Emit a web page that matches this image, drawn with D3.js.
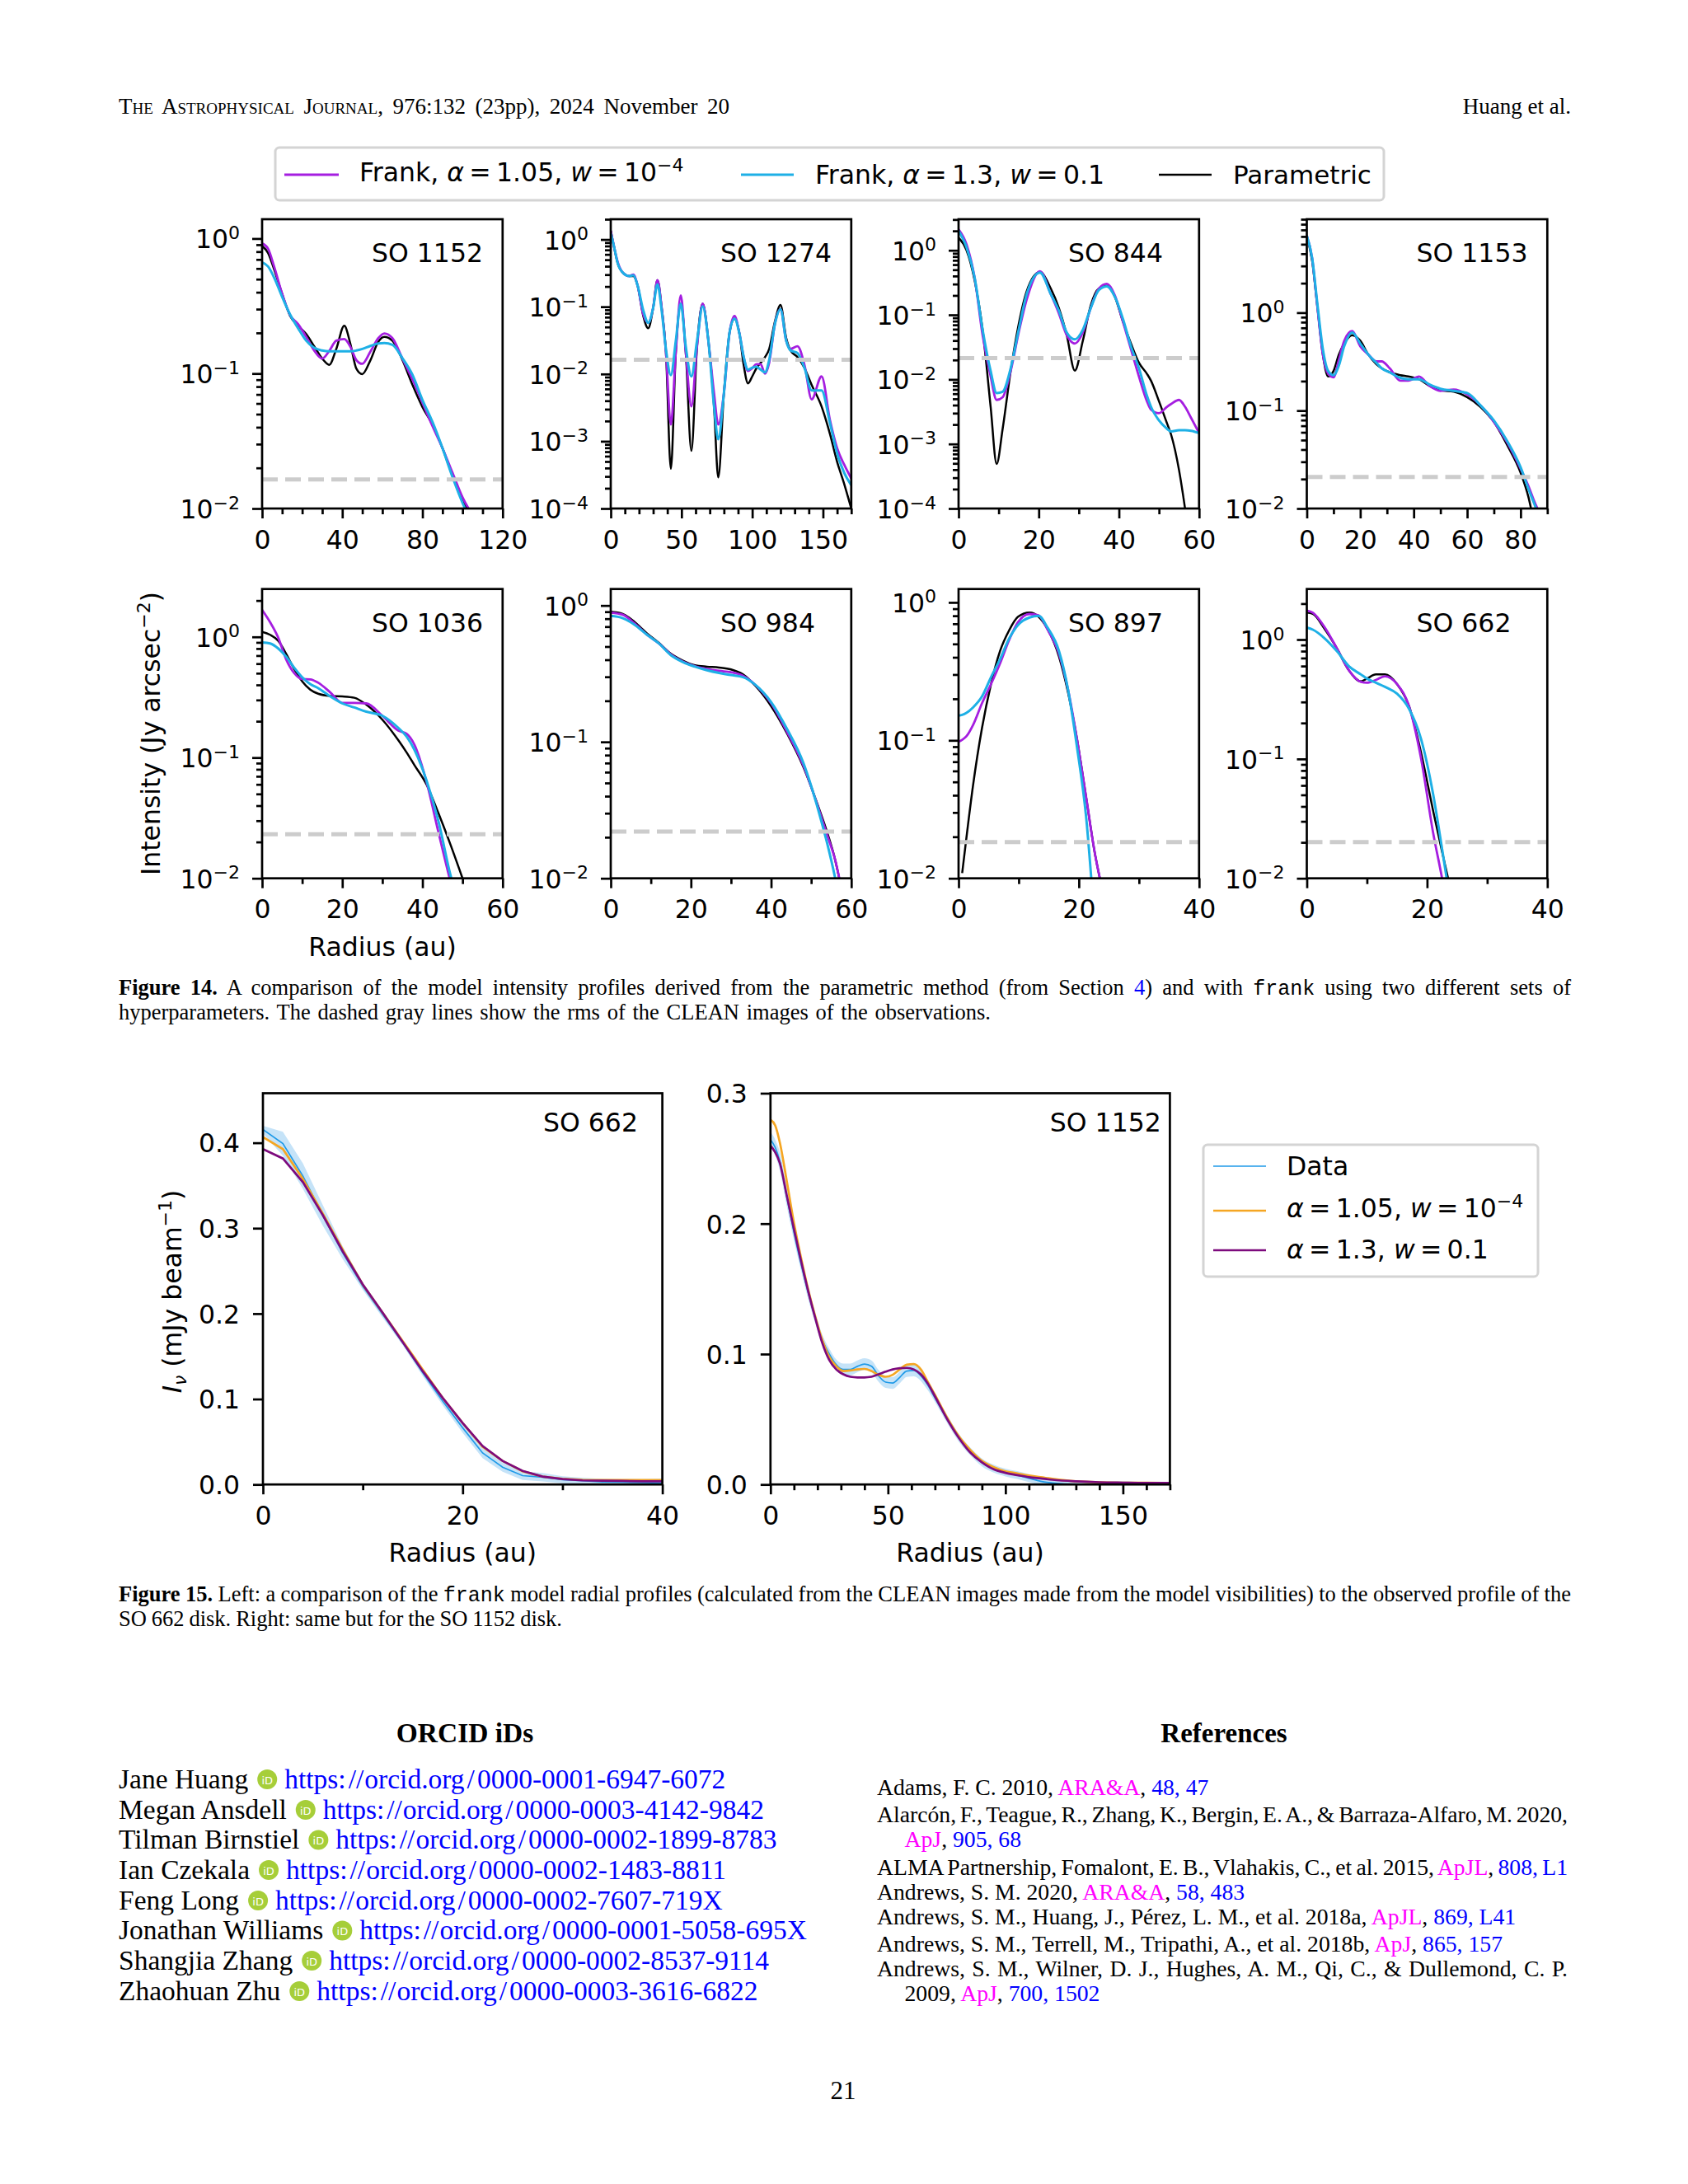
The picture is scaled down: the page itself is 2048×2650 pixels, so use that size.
<!DOCTYPE html>
<html><head><meta charset="utf-8">
<script src="https://cdn.jsdelivr.net/npm/d3@7/dist/d3.min.js"></script>
<style>html,body{margin:0;padding:0;background:#fff}svg{display:block}text{white-space:pre}</style>
</head><body><div id="chart"></div>
<script>
// ---------- Figure 14 data: radius (au) and intensity (Jy arcsec^-2) ----------
const so1152Radius=[0,3,6,10,14,18,22,26,30,33.5,37,41,44,47,50,54,58,61,65,70,75,80,85,90,95,100,103];
const so1152Parametric=[.88,.78,.59,.388,.267,.226,.196,.159,.129,.116,.152,.226,.167,.109,.099,.125,.172,.187,.175,.126,.0826,.0565,.0418,.028,.0175,.0115,.0095];
const so1152Frank105=[.92,.84,.62,.39,.27,.232,.187,.148,.129,.147,.175,.18,.158,.126,.118,.145,.183,.198,.183,.129,.0906,.0608,.0408,.028,.0184,.0121,.01];
const so1152Frank13=[.665,.62,.514,.37,.273,.216,.175,.155,.148,.146,.146,.146,.146,.148,.152,.16,.167,.168,.163,.13,.098,.0637,.0438,.028,.0171,.011,.0088];

const so1274Radius=[0,2,5,9,13,16,19,23,26.5,30,33,36,39,42.5,46,49.5,53,57,61,65,69,73,76,80,84,87.5,91,94,97,100,103,106,109,112,116,120,124,127,132,137,142,149,155,160,165,170];
const so1274Parametric=[1.35,.84,.437,.314,.286,.286,.206,.073,.0478,.0968,.248,.0968,.0214,3.9e-4,.0214,.111,.0214,7.2e-4,.0259,.111,.0313,3.3e-3,2.9e-4,5.2e-3,.0415,.0664,.0395,.0134,7.26e-3,9.2e-3,.0122,.0147,.0178,.0236,.06,.106,.0343,.0225,.0178,.0122,6.9e-3,3.3e-3,1.27e-3,4.95e-4,2.33e-4,1e-4];
const so1274Frank105=[1.35,.84,.457,.314,.286,.3,.206,.0764,.0577,.0968,.248,.0968,.0214,1.77e-3,.0214,.148,.0214,3.3e-3,.0259,.111,.0313,5.2e-3,1.77e-3,5.2e-3,.0415,.073,.0395,.0178,.0111,.0122,.014,.014,.0101,.0147,.055,.092,.0313,.0236,.0259,.0134,4.2e-3,9.2e-3,2.04e-3,7.9e-4,4.5e-4,2.8e-4];
const so1274Frank13=[1.23,.84,.437,.314,.286,.294,.206,.088,.0577,.0968,.215,.088,.0236,.0096,.0313,.111,.0259,.0092,.0313,.101,.0313,3.3e-3,1.07e-3,5.2e-3,.0415,.0664,.0395,.0178,.0116,.0124,.0128,.0116,.0106,.0162,.055,.092,.0313,.0225,.0205,.0122,5.7e-3,5.7e-3,1.85e-3,6.6e-4,3.4e-4,2.23e-4];

const so844Radius=[0,2,4,6,8,9.5,11,13,15,17,20.3,23,25,27,29,31,33,35,37,39,41,43,45,47,48,50,52,53,55,56.5,58,60];
const so844Parametric=[1.57,1,.343,.0587,3.77e-3,4.9e-4,1.72e-3,.0135,.0714,.232,.46,.256,.129,.0482,.0137,.0396,.142,.256,.282,.19,.0787,.036,.0181,.0122,.00955,4.58e-3,2.09e-3,1.41e-3,3.94e-4,1e-4,2e-5,6e-6];
const so844Frank105=[2.11,1.23,.378,.0482,.0111,4.81e-3,5.3e-3,.0135,.0532,.173,.474,.21,.106,.0482,.036,.0532,.129,.256,.302,.2,.0787,.0295,.0111,4.58e-3,3.41e-3,3e-3,3.77e-3,4.15e-3,4.81e-3,3.77e-3,2.54e-3,1.48e-3];
const so844Frank13=[2,1.11,.378,.0587,.0135,6.15e-3,6.45e-3,.0149,.0587,.21,.452,.21,.117,.0532,.0417,.0587,.129,.243,.277,.19,.0869,.0326,.0149,5.57e-3,3.77e-3,2.31e-3,1.72e-3,1.56e-3,1.63e-3,1.63e-3,1.6e-3,1.48e-3];

const so1153Radius=[0,2,4,6,8,10,12,14,17,20,23,26,28,31,35,38,42,46,50,55,60,65,70,75,80,83,85,87];
const so1153Parametric=[6.04,3.37,1.12,.374,.223,.254,.374,.484,.589,.517,.374,.298,.271,.246,.23,.223,.209,.178,.161,.156,.137,.109,.0767,.0443,.0232,.0129,.00724,.00431];
const so1153Frank105=[6.1,3.6,1.12,.374,.238,.219,.329,.517,.648,.454,.374,.318,.318,.271,.202,.202,.223,.178,.159,.164,.146,.113,.0767,.0472,.0255,.0168,.0121,.00907];
const so1153Frank13=[6.1,3.6,1.2,.426,.254,.23,.289,.454,.628,.484,.374,.308,.271,.246,.216,.209,.209,.184,.167,.159,.151,.113,.0792,.0488,.0264,.0157,.0114,.00823];

const so1036Radius=[0,2,4,6,8,10,12,14,17,20,23,26,30,34,36,38,41,44,47,50];
const so1036Parametric=[1.1,1.04,.93,.723,.542,.428,.366,.338,.324,.321,.313,.274,.206,.139,.111,.0866,.06,.0346,.019,.01];
const so1036Frank105=[1.67,1.32,.99,.65,.501,.447,.444,.417,.347,.284,.284,.281,.222,.167,.158,.128,.0632,.024,.00934,.00404];
const so1036Frank13=[.9,.881,.802,.686,.556,.463,.406,.376,.321,.281,.26,.24,.222,.176,.15,.116,.0649,.0296,.0106,.00498];

const so984Radius=[0,3,6,9,12,15,18,21,24,27,30,33,36,40,44,48,52,54,56,57];
const so984Parametric=[.899,.867,.754,.626,.532,.442,.394,.364,.356,.351,.34,.312,.259,.183,.115,.0661,.0322,.0217,.0136,.01];
const so984Frank105=[.887,.855,.736,.612,.527,.438,.388,.359,.343,.332,.324,.305,.263,.192,.118,.0676,.0314,.0207,.0136,.0101];
const so984Frank13=[.838,.807,.72,.612,.527,.432,.385,.356,.335,.32,.309,.298,.263,.196,.124,.0708,.03,.018,.01,.00713];

const so897Radius=[0,.6,1.3,2.4,3.9,5.4,6.9,8.4,9.9,11.8,13.3,14.8,16.7,18.2,19.7,21.2,22.7,23.5];
const so897Parametric=[null,.0109,.0196,.0469,.123,.256,.444,.626,.787,.843,.787,.641,.405,.223,.102,.0391,.0149,.01];
const so897Frank105=[.0977,.101,.107,.129,.186,.256,.361,.533,.719,.824,.806,.635,.424,.234,.102,.0391,.0149,.01];
const so897Frank13=[.151,.153,.158,.173,.208,.287,.387,.546,.687,.777,.798,.656,.444,.234,.0892,.0283,.00452,.00181];

const so662Radius=[0,1,3,5,7,9,10,11.5,13,15,17,19,21,22.5,23.5];
const so662Parametric=[1.68,1.64,1.22,.844,.552,.447,.471,.51,.51,.424,.277,.113,.037,.0167,.01];
const so662Frank105=[1.75,1.68,1.26,.844,.552,.442,.435,.459,.492,.424,.277,.101,.0242,.01,.00521];
const so662Frank13=[1.26,1.21,1.02,.8,.598,.51,.471,.435,.402,.352,.263,.147,.0509,.0176,.0084];

const panelNames=["SO 1152","SO 1274","SO 844","SO 1153","SO 1036","SO 984","SO 897","SO 662"];
const rmsLevels=[.0164,.0163,.0214,.021,.0232,.022,.0183,.0201];
const yMaxima=[1.39,2.0,3.03,9.0,2.49,1.32,1.25,2.65];
const yMinima=[.01,1e-4,1e-4,.01,.01,.01,.01,.01];
const xMaxima=[120,170,60,90,60,60,40,40];
const xMajorTicks=[[0,40,80,120],[0,50,100,150],[0,20,40,60],[0,20,40,60,80],[0,20,40,60],[0,20,40,60],[0,20,40],[0,20,40]];
const legendLabelsTop=["Parametric"];

// ---------- Figure 15 data: radius (au) and I_nu (mJy/beam) ----------
const fig15LeftRadius=[0,2,4,6,8,10,12,14,16,18,20,22,24,26,28,30,32,34,36,38,40];
const fig15LeftData=[.4155,.399,.361,.315,.271,.232,.199,.166,.131,.0977,.0664,.0369,.0203,.0103,.0085,.0055,.0044,.003,.0026,.0022,.0018];
const fig15LeftDataHigh=[.42,.413,.376,.327,.2785,.236,.203,.169,.135,.103,.0724,.0429,.0258,.0153,.0135,.0095,.0079,.0065,.0061,.0062,.0068];
const fig15LeftDataLow=[.411,.385,.346,.303,.2635,.228,.195,.163,.127,.0927,.0604,.0309,.0148,.0053,.0035,.0015,.0009,0,0,0,0];
const fig15LeftFrank105=[.4066,.3926,.3576,.317,.2747,.234,.2009,.1677,.1346,.1014,.0719,.0442,.0276,.0155,.0092,.0066,.0055,.0052,.0052,.0052,.0052];
const fig15LeftFrank13=[.3926,.3816,.3539,.3152,.2728,.2341,.2009,.1666,.1327,.1014,.0719,.045,.0276,.0159,.0092,.0063,.0048,.0044,.0041,.0037,.0037];

const fig15RightRadius=[0,2,4,7,10,13,16,19,22,25,28,31,34,37,40,43,46,49,52,55,58,61,64,67,70,75,80,85,90,95,100,105,110,115,120,130,140,150,160,170];
const fig15RightData=[.2645,.2585,.2476,.2198,.1932,.1691,.1473,.128,.1111,.1002,.0918,.0882,.0882,.0906,.0923,.0906,.0833,.0785,.0778,.0821,.087,.0874,.0833,.0761,.0664,.0507,.0362,.0254,.0169,.0121,.0092,.0072,.0048,.0024,.0012,.0002,.0002,.0012,.0005,.0003];
const fig15RightDataHigh=[.2705,.2645,.2546,.2268,.1992,.1741,.1523,.132,.1151,.1042,.0958,.0927,.0927,.0951,.0968,.0951,.0878,.083,.0823,.0866,.0915,.0919,.0873,.0801,.0694,.0537,.0392,.0284,.0199,.0151,.0122,.0102,.0078,.0048,.0032,.0022,.0022,.0025,.0015,.0012];
const fig15RightDataLow=[.2585,.2525,.2406,.2128,.1872,.1641,.1423,.124,.1071,.0962,.0878,.0837,.0837,.0861,.0878,.0861,.0788,.074,.0733,.0776,.0825,.0829,.0793,.0721,.0634,.0477,.0332,.0224,.0139,.0091,.0062,.0042,.0018,0,0,0,0,.0005,.0003,.0003];
const fig15RightFrank105=[.2797,.2754,.2621,.2319,.2005,.1739,.1498,.1292,.1111,.0978,.0906,.087,.0874,.0882,.0886,.087,.0841,.0826,.0841,.0882,.0918,.0923,.0882,.0785,.0688,.0519,.0374,.0266,.0181,.0133,.0101,.0085,.0068,.0056,.0043,.0024,.0017,.0014,.0014,.0012];
const fig15RightFrank13=[.2597,.2548,.2464,.221,.1957,.1715,.1486,.128,.1087,.0954,.0882,.0845,.0826,.0821,.0821,.0826,.0845,.0865,.0882,.0891,.0894,.0882,.0845,.0773,.0676,.0507,.0362,.0246,.0169,.0116,.0089,.0072,.0056,.0046,.0036,.0024,.0017,.0014,.0012,.0012];

// ---------- Page text ----------
const authorNames=["Jane Huang","Megan Ansdell","Tilman Birnstiel","Ian Czekala","Feng Long","Jonathan Williams","Shangjia Zhang","Zhaohuan Zhu"];
const orcidIds=["0000-0001-6947-6072","0000-0003-4142-9842","0000-0002-1899-8783","0000-0002-1483-8811","0000-0002-7607-719X","0000-0001-5058-695X","0000-0002-8537-9114","0000-0003-3616-6822"];

// ---------- Styles ----------
const SANS="'DejaVu Sans',sans-serif", SERIF="'Liberation Serif',serif", MONO="'Liberation Mono',monospace";
const C_PURPLE="#a51ee0", C_BLUE="#1eb0e6", C_BLACK="#000", C_RMS="#cccccc", LEG="#d4d4d4";
const C_DATA="#1f9ae8", C_BAND="#bfe0f7", C_ORANGE="#f5a623", C_DARK="#7d0a7d";
const TICK=31.5, FRAME=2.7;

const svg=d3.select("#chart").append("svg").attr("width",2048).attr("height",2650).attr("viewBox","0 0 2048 2650");
svg.append("rect").attr("width",2048).attr("height",2650).attr("fill","#fff");
const defs=svg.append("defs");
let clipId=0;

function addRuns(text,runs){
  runs.forEach(r=>{
    const t=text.append("tspan").text(r.t);
    if(r.fill)t.attr("fill",r.fill);
    if(r.bold)t.attr("font-weight","bold");
    if(r.it)t.attr("font-style","italic");
    if(r.fam)t.attr("font-family",r.fam);
    if(r.size)t.attr("font-size",r.size);
    if(r.dy)t.attr("dy",r.dy);
    if(r.dx)t.attr("dx",r.dx);
    if(r.caps)t.style("font-variant","small-caps");
  });
}
function line(g,x,y,runs,o={}){
  const t=g.append("text").attr("x",x).attr("y",y)
    .attr("font-family",o.fam||SERIF).attr("font-size",o.size||26.5).attr("fill",o.fill||"#000")
    .attr("text-anchor",o.anchor||"start");
  if(o.weight)t.attr("font-weight",o.weight);
  if(o.rotate)t.attr("transform",`rotate(-90 ${x} ${y})`);
  addRuns(t,typeof runs==="string"?[{t:runs}]:runs);
  if(o.width){
    const len=t.node().getComputedTextLength();
    const n=(t.text().match(/ /g)||[]).length;
    if(n)t.attr("word-spacing",((o.width-len)/n).toFixed(3));
  }
  return t;
}

function frame(g,w,h){
  g.append("rect").attr("width",w).attr("height",h).attr("fill","none").attr("stroke","#000").attr("stroke-width",FRAME);
}
function styleAxis(a){
  a.select(".domain").remove();
  a.selectAll("line").attr("stroke","#000").attr("stroke-width",FRAME);
}
function xAxes(g,x,h,majors,minors){
  const a=g.append("g").attr("transform",`translate(0,${h})`).call(d3.axisBottom(x).tickValues(majors).tickSize(12).tickPadding(9).tickFormat(d3.format("d")));
  styleAxis(a);
  a.selectAll("text").attr("font-family",SANS).attr("font-size",TICK).attr("fill","#000").attr("dy",0).attr("y",48.5).attr("dominant-baseline","auto");
  const m=g.append("g").attr("transform",`translate(0,${h})`).call(d3.axisBottom(x).tickValues(minors).tickSize(7).tickFormat(""));
  styleAxis(m);
}
function range(a,b,s){const r=[];for(let v=a;v<=b+1e-9;v+=s)r.push(v);return r;}

function logPanel(i,left,top,w,h,radius,par,f105,f13){
  const g=svg.append("g").attr("transform",`translate(${left},${top})`);
  const x=d3.scaleLinear().domain([0,xMaxima[i]]).range([0,w]);
  const y=d3.scaleLog().domain([yMinima[i],yMaxima[i]]).range([h,0]);
  const id="clip"+(clipId++);
  defs.append("clipPath").attr("id",id).append("rect").attr("width",w).attr("height",h);
  const body=g.append("g").attr("clip-path",`url(#${id})`);
  const path=d3.line().defined(d=>d.v!=null).x(d=>x(d.r)).y(d=>y(d.v)).curve(d3.curveMonotoneX);
  [[par,C_BLACK,2.5],[f105,C_PURPLE,2.8],[f13,C_BLUE,3]].forEach(([vals,col,sw])=>{
    body.append("path").datum(radius.map((r,k)=>({r,v:vals[k]}))).attr("d",path).attr("fill","none").attr("stroke",col).attr("stroke-width",sw);
  });
  body.append("line").attr("x1",x(0)).attr("x2",w).attr("y1",y(rmsLevels[i])).attr("y2",y(rmsLevels[i]))
    .attr("stroke",C_RMS).attr("stroke-width",5).attr("stroke-dasharray","19 9");
  const dec=d3.range(Math.round(Math.log10(yMinima[i])),1).map(e=>Math.pow(10,e)).filter(v=>v<=yMaxima[i]);
  const ya=g.append("g").call(d3.axisLeft(y).tickValues(dec).tickSize(12).tickFormat(""));
  styleAxis(ya);
  ya.selectAll(".tick").each(function(d){
    const e=Math.round(Math.log10(d));
    d3.select(this).select("text").remove();
    const t=d3.select(this).append("text").attr("x",-27).attr("y",11.5).attr("text-anchor","end")
      .attr("font-family",SANS).attr("font-size",TICK).attr("fill","#000");
    t.append("tspan").text("10");
    t.append("tspan").text(e===0?"0":"\u2212"+(-e)).attr("font-size",TICK*.7).attr("dy",-11.5);
  });
  const ym=g.append("g").call(d3.axisLeft(y).tickValues(y.ticks().filter(v=>{const l=Math.log10(v);return Math.abs(l-Math.round(l))>1e-6&&v<=yMaxima[i];})).tickSize(7).tickFormat(""));
  styleAxis(ym);
  const majors=xMajorTicks[i];
  const minors=range(0,xMaxima[i],10).filter(v=>!majors.includes(v));
  xAxes(g,x,h,majors,minors);
  frame(g,w,h);
  line(g,133,i<4?52:52.6,panelNames[i],{fam:SANS,size:TICK});
}

const colLefts=[318,741,1163,1585.5], colW=291.8;
const rowTops=[266,714.7], rowH=351;
const fig14=[
 [so1152Radius,so1152Parametric,so1152Frank105,so1152Frank13],
 [so1274Radius,so1274Parametric,so1274Frank105,so1274Frank13],
 [so844Radius,so844Parametric,so844Frank105,so844Frank13],
 [so1153Radius,so1153Parametric,so1153Frank105,so1153Frank13],
 [so1036Radius,so1036Parametric,so1036Frank105,so1036Frank13],
 [so984Radius,so984Parametric,so984Frank105,so984Frank13],
 [so897Radius,so897Parametric,so897Frank105,so897Frank13],
 [so662Radius,so662Parametric,so662Frank105,so662Frank13]];
fig14.forEach((d,i)=>logPanel(i,colLefts[i%4],rowTops[i<4?0:1],colW,rowH,d[0],d[1],d[2],d[3]));

// Figure 14 legend
const lg=svg.append("g");
lg.append("rect").attr("x",334).attr("y",179).attr("width",1345).attr("height",64).attr("rx",5).attr("fill","#fff").attr("stroke",LEG).attr("stroke-width",3);
function handle(g,x1,x2,y,col,sw){g.append("line").attr("x1",x1).attr("x2",x2).attr("y1",y).attr("y2",y).attr("stroke",col).attr("stroke-width",sw);}
handle(lg,345,411,212,C_PURPLE,2.8);
handle(lg,899,963,212,C_BLUE,3);
handle(lg,1406,1470,212,C_BLACK,2.5);
const TS="\u2009";
const mathRuns105=[{t:"\u03B1",it:1},{t:TS+"="+TS+"1.05, "},{t:"w",it:1},{t:TS+"="+TS+"10"},{t:"\u22124",size:22,dy:-12}];
const mathRuns13=[{t:"\u03B1",it:1},{t:TS+"="+TS+"1.3, "},{t:"w",it:1},{t:TS+"="+TS+"0.1"}];
line(lg,436,220,[{t:"Frank, "},...mathRuns105],{fam:SANS,size:31.5});
line(lg,989,223,[{t:"Frank, "},...mathRuns13],{fam:SANS,size:31.5});
line(lg,1496,223,legendLabelsTop[0],{fam:SANS,size:31});

// Figure 14 axis titles
line(svg,194,890,[{t:"Intensity (Jy arcsec"},{t:"\u22122",size:22,dy:-12},{t:")",dy:12}],{fam:SANS,size:TICK,anchor:"middle",rotate:1});
line(svg,464,1160,"Radius (au)",{fam:SANS,size:TICK,anchor:"middle"});

// Figure 15 panels
function linPanel(cfg){
  const g=svg.append("g").attr("transform",`translate(${cfg.left},1326.5)`);
  const w=484.6,h=474.7;
  const x=d3.scaleLinear().domain([0,cfg.xMax]).range([0,w]);
  const y=d3.scaleLinear().domain([0,cfg.yMax]).range([h,0]);
  const id="clip"+(clipId++);
  defs.append("clipPath").attr("id",id).append("rect").attr("width",w).attr("height",h);
  const body=g.append("g").attr("clip-path",`url(#${id})`);
  const rows=cfg.r.map((r,k)=>({r,hi:cfg.hi[k],lo:cfg.lo[k]}));
  body.append("path").datum(rows).attr("fill",C_BAND).attr("fill-opacity",.9)
    .attr("d",d3.area().x(d=>x(d.r)).y0(d=>y(d.lo)).y1(d=>y(d.hi)).curve(cfg.curve));
  const path=d3.line().x(d=>x(d.r)).y(d=>y(d.v)).curve(cfg.curve);
  [[cfg.data,C_DATA,1.7],[cfg.f105,C_ORANGE,2.7],[cfg.f13,C_DARK,2.7]].forEach(([vals,col,sw])=>{
    body.append("path").datum(cfg.r.map((r,k)=>({r,v:vals[k]}))).attr("d",path).attr("fill","none").attr("stroke",col).attr("stroke-width",sw);
  });
  const ya=g.append("g").call(d3.axisLeft(y).tickValues(cfg.yTicks).tickSize(12).tickPadding(16).tickFormat(d3.format(".1f")));
  styleAxis(ya);
  ya.selectAll("text").attr("font-family",SANS).attr("font-size",TICK).attr("fill","#000").attr("x",-28).attr("dy",".36em");
  xAxes(g,x,h,cfg.xMajors,cfg.xMinors);
  frame(g,w,h);
  line(g,cfg.labelX,46.5,cfg.name,{fam:SANS,size:TICK});
  line(g,w/2,568,"Radius (au)",{fam:SANS,size:TICK,anchor:"middle"});
}
linPanel({left:319,xMax:40,yMax:.458,curve:d3.curveLinear,r:fig15LeftRadius,data:fig15LeftData,hi:fig15LeftDataHigh,lo:fig15LeftDataLow,f105:fig15LeftFrank105,f13:fig15LeftFrank13,yTicks:[0,.1,.2,.3,.4],xMajors:[0,20,40],xMinors:[10,30],name:panelNames[7],labelX:340});
linPanel({left:934.8,xMax:170,yMax:.3,curve:d3.curveMonotoneX,r:fig15RightRadius,data:fig15RightData,hi:fig15RightDataHigh,lo:fig15RightDataLow,f105:fig15RightFrank105,f13:fig15RightFrank13,yTicks:[0,.1,.2,.3],xMajors:[0,50,100,150],xMinors:range(0,170,10).filter(v=>v%50),name:panelNames[0],labelX:339});
line(svg,220,1567,[{t:"I",it:1},{t:"\u03BD",it:1,size:22,dy:6},{t:" (mJy beam",dy:-6},{t:"\u22121",size:22,dy:-12},{t:")",dy:12}],{fam:SANS,size:TICK,anchor:"middle",rotate:1});

// Figure 15 legend
const lg2=svg.append("g");
lg2.append("rect").attr("x",1460).attr("y",1389).attr("width",406).attr("height",160).attr("rx",5).attr("fill","#fff").attr("stroke",LEG).attr("stroke-width",3);
handle(lg2,1472,1536,1415,C_DATA,1.7);
handle(lg2,1472,1536,1469,C_ORANGE,2.7);
handle(lg2,1472,1536,1517,C_DARK,2.7);
line(lg2,1561,1426,"Data",{fam:SANS,size:TICK});
line(lg2,1561,1477,mathRuns105,{fam:SANS,size:TICK});
line(lg2,1561,1527,mathRuns13,{fam:SANS,size:TICK});

// Page header and captions
const PW=1762;
line(svg,144,138,[{t:"The Astrophysical Journal",caps:1},{t:", 976:132 (23pp), 2024 November 20"}],{size:27,width:741});
line(svg,1906,138,"Huang et al.",{size:27,anchor:"end"});
const link="#0000ff", jour="#ff00ff";
line(svg,144,1206.5,[{t:"Figure 14.",bold:1},{t:" A comparison of the model intensity profiles derived from the parametric method (from Section "},{t:"4",fill:link},{t:") and with "},{t:"frank",fam:MONO,size:25},{t:" using two different sets of"}],{width:PW});
line(svg,144,1236.5,"hyperparameters. The dashed gray lines show the rms of the CLEAN images of the observations.",{width:1058});
line(svg,144,1943,[{t:"Figure 15.",bold:1},{t:" Left: a comparison of the "},{t:"frank",fam:MONO,size:25},{t:" model radial profiles (calculated from the CLEAN images made from the model visibilities) to the observed profile of the"}],{width:PW});
line(svg,144,1973,"SO 662 disk. Right: same but for the SO 1152 disk.",{width:538});

// ORCID block
line(svg,564,2114,"ORCID iDs",{size:33.5,weight:"bold",anchor:"middle"});
line(svg,1485,2114,"References",{size:33,weight:"bold",anchor:"middle"});
const orcidY=[2169.5,2206.5,2243,2279.5,2316.5,2353,2389.5,2426.5];
authorNames.forEach((nm,k)=>{
  const t=line(svg,144,orcidY[k],nm,{size:33.5});
  const end=144+t.node().getComputedTextLength();
  svg.append("circle").attr("cx",end+23).attr("cy",orcidY[k]-10.5).attr("r",12).attr("fill","#a6ce39");
  line(svg,end+23,orcidY[k]-5,"iD",{fam:SANS,size:13,fill:"#fff",anchor:"middle"});
  line(svg,end+44,orcidY[k],[{t:"https:",fill:link},{t:"//",fill:link,dx:3},{t:"orcid.org",fill:link,dx:1},{t:"/",fill:link,dx:3},{t:orcidIds[k],fill:link,dx:3}],{size:33.5});
});

// References
const RW=838,RS=27.7;
const J=t=>({t,fill:jour}),V=t=>({t,fill:link}),P=t=>({t});
line(svg,1064,2178,[P("Adams, F. C. 2010, "),J("ARA&A"),P(", "),V("48, 47")],{size:RS});
line(svg,1064,2211,[P("Alarcón, F., Teague, R., Zhang, K., Bergin, E. A., & Barraza-Alfaro, M. 2020,")],{size:RS,width:RW});
line(svg,1097.5,2241,[J("ApJ"),P(", "),V("905, 68")],{size:RS});
line(svg,1064,2274.5,[P("ALMA Partnership, Fomalont, E. B., Vlahakis, C., et al. 2015, "),J("ApJL"),P(", "),V("808, L1")],{size:RS,width:RW});
line(svg,1064,2304.5,[P("Andrews, S. M. 2020, "),J("ARA&A"),P(", "),V("58, 483")],{size:RS});
line(svg,1064,2334.5,[P("Andrews, S. M., Huang, J., Pérez, L. M., et al. 2018a, "),J("ApJL"),P(", "),V("869, L41")],{size:RS});
line(svg,1064,2367.5,[P("Andrews, S. M., Terrell, M., Tripathi, A., et al. 2018b, "),J("ApJ"),P(", "),V("865, 157")],{size:RS});
line(svg,1064,2397.5,[P("Andrews, S. M., Wilner, D. J., Hughes, A. M., Qi, C., & Dullemond, C. P.")],{size:RS,width:RW});
line(svg,1097.5,2427.5,[P("2009, "),J("ApJ"),P(", "),V("700, 1502")],{size:RS});

line(svg,1023,2547,"21",{size:31,anchor:"middle"});
</script></body></html>
